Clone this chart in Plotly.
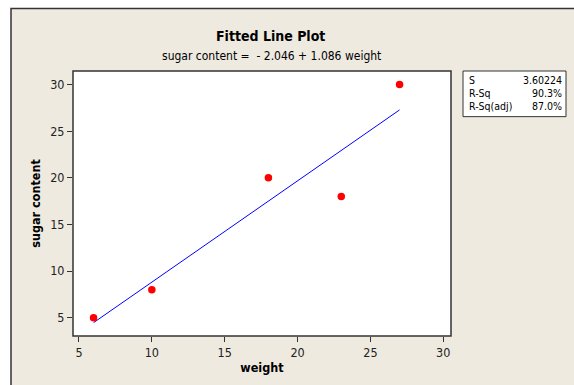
import plotly.graph_objects as go

weight = [6, 10, 18, 23, 27]
sugar = [5, 8, 20, 18, 30]
fit_x = [6, 27]
fit_y = [4.47, 27.276]
stat_names = ["S", "R-Sq", "R-Sq(adj)"]
stat_values = ["3.60224", "90.3%", "87.0%"]
x_ticks = [5, 10, 15, 20, 25, 30]
y_ticks = [5, 10, 15, 20, 25, 30]

W, H = 574, 385
L, R, T, B = 73, 451, 71, 338
FONT = "DejaVu Sans Condensed, DejaVu Sans"
BEIGE = "#EEEAE0"

def px(x):
    return (x - L) / (R - L)

def py(y):
    return (B - y) / (B - T)

fig = go.Figure()
fig.add_trace(go.Scatter(x=fit_x, y=fit_y, mode="lines",
                         line=dict(color="#0000FF", width=1), showlegend=False))
fig.add_trace(go.Scatter(x=weight, y=sugar, mode="markers",
                         marker=dict(color="#FF0000", size=7.5), showlegend=False))

shapes = [
    dict(type="rect", xref="paper", yref="paper", x0=px(11), x1=px(700), y0=py(500), y1=py(8),
         fillcolor=BEIGE, line=dict(color="#333333", width=1.5), layer="below"),
    dict(type="rect", xref="paper", yref="paper", x0=0, x1=1, y0=0, y1=1,
         fillcolor="white", line=dict(color="#333333", width=1.5), layer="below"),
    dict(type="rect", xref="paper", yref="paper", x0=px(463), x1=px(566), y0=py(117), y1=py(71),
         fillcolor="white", line=dict(color="#333333", width=1), layer="below"),
]

annotations = [
    dict(text="<b>Fitted Line Plot</b>", x=px(270), y=py(36), xref="paper", yref="paper",
         showarrow=False, font=dict(family=FONT, size=14, color="black"), xanchor="center", yanchor="middle"),
    dict(text="sugar content =  - 2.046 + 1.086 weight", x=px(271), y=py(56), xref="paper", yref="paper",
         showarrow=False, font=dict(family=FONT, size=12, color="black"), xanchor="center", yanchor="middle"),
]
for i, (n, v) in enumerate(zip(stat_names, stat_values)):
    yy = py(80 + i * 13)
    annotations.append(dict(text=n, x=px(467), y=yy, xref="paper", yref="paper", showarrow=False,
                            xanchor="left", yanchor="middle", font=dict(family=FONT, size=10.5, color="black")))
    annotations.append(dict(text=v, x=px(564), y=yy, xref="paper", yref="paper", showarrow=False,
                            xanchor="right", yanchor="middle", font=dict(family=FONT, size=10.5, color="black")))

fig.update_layout(
    width=W, height=H,
    margin=dict(l=L, r=W - R, t=T, b=H - B, pad=0),
    paper_bgcolor="white", plot_bgcolor="rgba(0,0,0,0)",
    shapes=shapes, annotations=annotations,
    font=dict(family=FONT, size=12, color="#222222"),
)
fig.update_xaxes(range=[4.59, 30.53], tickvals=x_ticks, ticks="outside", ticklen=5,
                 tickcolor="#333333", showgrid=False, zeroline=False, showline=False,
                 tickfont=dict(family=FONT, size=12.5),
                 title=dict(text="<b>weight</b>", font=dict(family=FONT, size=12.5, color="black"), standoff=4))
fig.update_yaxes(range=[3.04, 31.45], tickvals=y_ticks, ticks="outside", ticklen=5,
                 tickcolor="#333333", showgrid=False, zeroline=False, showline=False,
                 tickfont=dict(family=FONT, size=12.5),
                 title=dict(text="<b>sugar content</b>", font=dict(family=FONT, size=12.5, color="black"), standoff=6))

fig.write_html("out.html")
